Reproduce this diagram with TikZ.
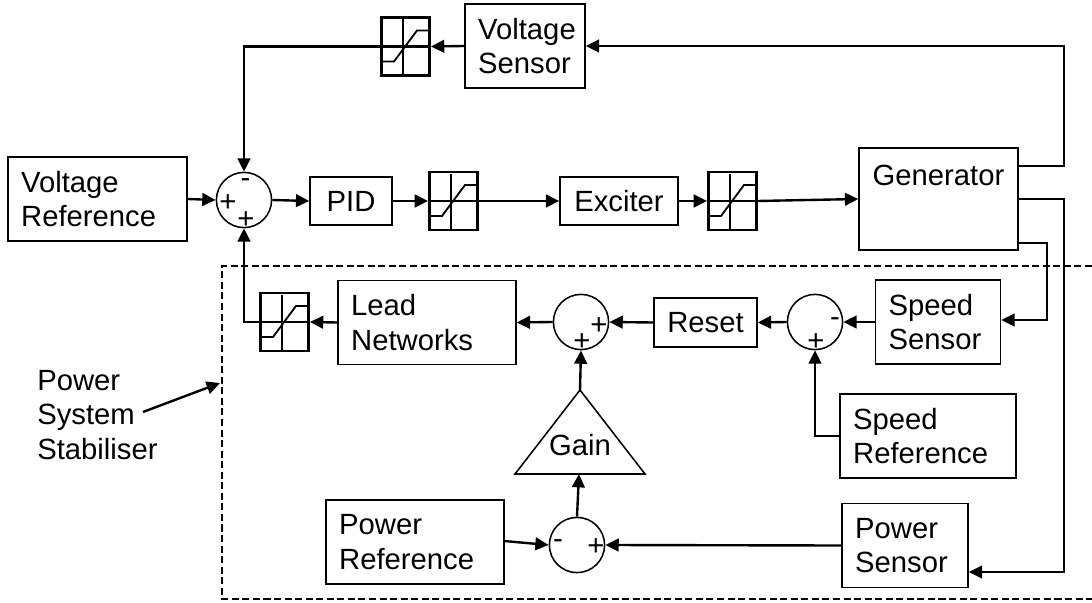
\documentclass[tikz,border=0pt]{standalone}
\usepackage{fontspec}
\setmainfont{Liberation Sans}
\usetikzlibrary{arrows.meta,calc}
\tikzset{
	wire/.style={line width=1.7pt},
	tbox/.style 2 args={draw,line width=1pt,align=left,inner xsep=0.33cm,inner ysep=0pt,text width=#1-0.66cm,minimum height=#2},
	cbox/.style 2 args={draw,line width=1pt,align=center,inner sep=0pt,minimum width=#1,minimum height=#2},
	satblock/.style={draw,line width=2pt,inner sep=0pt,minimum width=1.2cm,minimum height=1.45cm},
	sumnode/.style={draw,circle,line width=1.1pt,inner sep=0pt,minimum size=1.38cm},
	sgn/.style={inner sep=0pt}
}
\begin{document}
\begin{tikzpicture}[>={Triangle[length=9.5pt,width=9pt]},x=0.025cm,y=-0.025cm,line join=miter,font=\fontsize{20.8}{24.5}\selectfont]
	\useasboundingbox (0,0) rectangle (1092,603);
	\draw[wire,dash pattern=on 5pt off 2.5pt] (1092,266) -- (222,266) -- (222,599) -- (1092,599);
	\node (vsens) at (525,46) [tbox={3cm}{2.1cm}] {Voltage\\Sensor};
	\node (vref) at (97.5,199) [tbox={4.475cm}{2.1cm}] {Voltage\\Reference};
	\node (pid) at (351,201) [cbox={2.05cm}{1.2cm}] {PID};
	\node (exc) at (619,201) [cbox={2.95cm}{1.2cm}] {Exciter};
	\node (gen) at (938.5,199) [cbox={3.975cm}{2.55cm},label={[anchor=north,yshift=-0.32cm]north:Generator}] {};
	\node (lead) at (427,322.5) [tbox={4.45cm}{2.1cm}] {Lead\\Networks};
	\node (reset) at (705.5,322.5) [cbox={2.575cm}{1.225cm}] {Reset};
	\node (ssens) at (938,322) [tbox={3.125cm}{2.1cm}] {Speed\\Sensor};
	\node (sref) at (928,436) [tbox={4.4cm}{2.1cm}] {Speed\\Reference};
	\node (pref) at (415,542) [tbox={4.45cm}{2.1cm}] {Power\\Reference};
	\node (psens) at (905,545.5) [tbox={3.15cm}{2.1cm}] {Power\\Sensor};
	\node (satA) at (405.5,46.5) [satblock] {};
	\node (satB) at (453.5,201) [satblock] {};
	\node (satC) at (732.5,201) [satblock] {};
	\node (satD) at (284.5,322) [satblock] {};
	\foreach \s in {satA,satB,satC,satD} {
		\draw[line width=1pt] ($(\s.west)$) -- ($(\s.east)$);
		\draw[line width=1pt] ($(\s.center)+(-2.5,-27)$) -- ($(\s.center)+(-2.5,29)$);
		\draw[line width=1.3pt] ($(\s.center)+(-22.5,15)$) -- ($(\s.center)+(-11.5,15)$) -- ($(\s.center)+(11.5,-16)$) -- ($(\s.center)+(22.5,-16)$);
	}
	\node (sumV) at (244,200) [sumnode] {};
	\node (sumL) at (581,322) [sumnode] {};
	\node (sumS) at (815,322) [sumnode] {};
	\node (sumP) at (577,545) [sumnode] {};
	\node (sgnA) at (245.5,183) [sgn] {-};
	\node (sgnB) at (228,203) [sgn] {+};
	\node (sgnC) at (246,220) [sgn] {+};
	\node (sgnD) at (599,326) [sgn] {+};
	\node (sgnE) at (582,342) [sgn] {+};
	\node (sgnF) at (835,322) [sgn] {-};
	\node (sgnG) at (816,342) [sgn] {+};
	\node (sgnH) at (558,544) [sgn] {-};
	\node (sgnI) at (596,547) [sgn] {+};
	\coordinate (gainT) at (580,390);
	\coordinate (gainL) at (515,474);
	\coordinate (gainR) at (645,474);
	\coordinate (gainB) at (579,474);
	\draw[line width=1.1pt] (gainT) -- (gainL) -- (gainR) -- cycle;
	\node (gain) at (580,445) {Gain};
	\node (stab) at (37,415) [anchor=west,align=left,inner sep=0pt,font=\fontsize{20.8}{24.8}\selectfont] {Power\\System\\Stabiliser};
	\coordinate (stabS) at (143,412);
	\coordinate (stabE) at (220,383);
	\coordinate (genV) at (1018,166);
	\coordinate (genP) at (1018,199);
	\coordinate (genS) at (1018,243);
	\coordinate (turnV) at (1064,46);
	\coordinate (turnP) at (1064,572);
	\coordinate (turnS) at (1047,320);
	\coordinate (prefE) at (504,541);
	\draw[wire,->] (vref.east) -- (sumV.west);
	\draw[wire,->] (sumV.east) -- (pid.west);
	\draw[wire,->] (pid.east) -- (satB.west);
	\draw[wire,->] (satB.east) -- (exc.west);
	\draw[wire,->] (exc.east) -- (satC.west);
	\draw[wire,->] (satC.east) -- (gen.west);
	\draw[wire,->] (genV) -| (turnV) -- (vsens.east);
	\draw[wire,->] (vsens.west) -- (satA.east);
	\draw[wire,->] (satA.east) -| (sumV.north);
	\draw[wire,->] (genS) -| (turnS) -- (ssens.east |- turnS);
	\draw[wire,->] (ssens.west) -- (sumS.east);
	\draw[wire,->] (sumS.west) -- (reset.east);
	\draw[wire,->] (reset.west) -- (sumL.east);
	\draw[wire,->] (sumL.west) -- (lead.east);
	\draw[wire,->] (lead.west) -- (satD.east);
	\draw[wire,->] (satD.east) -| (sumV.south);
	\draw[wire,->] (sref.west) -| (sumS.south);
	\draw[wire,->] (genP) -| (turnP) -- (psens.east |- turnP);
	\draw[wire,->] (psens.west) -- (sumP.east);
	\draw[wire,->] (prefE) -- (sumP.west);
	\draw[wire,->] (sumP.north) -- (gainB);
	\draw[wire,->] (gainT) -- (sumL.south);
	\draw[wire,->] (stabS) -- (stabE);
\end{tikzpicture}
\end{document}
